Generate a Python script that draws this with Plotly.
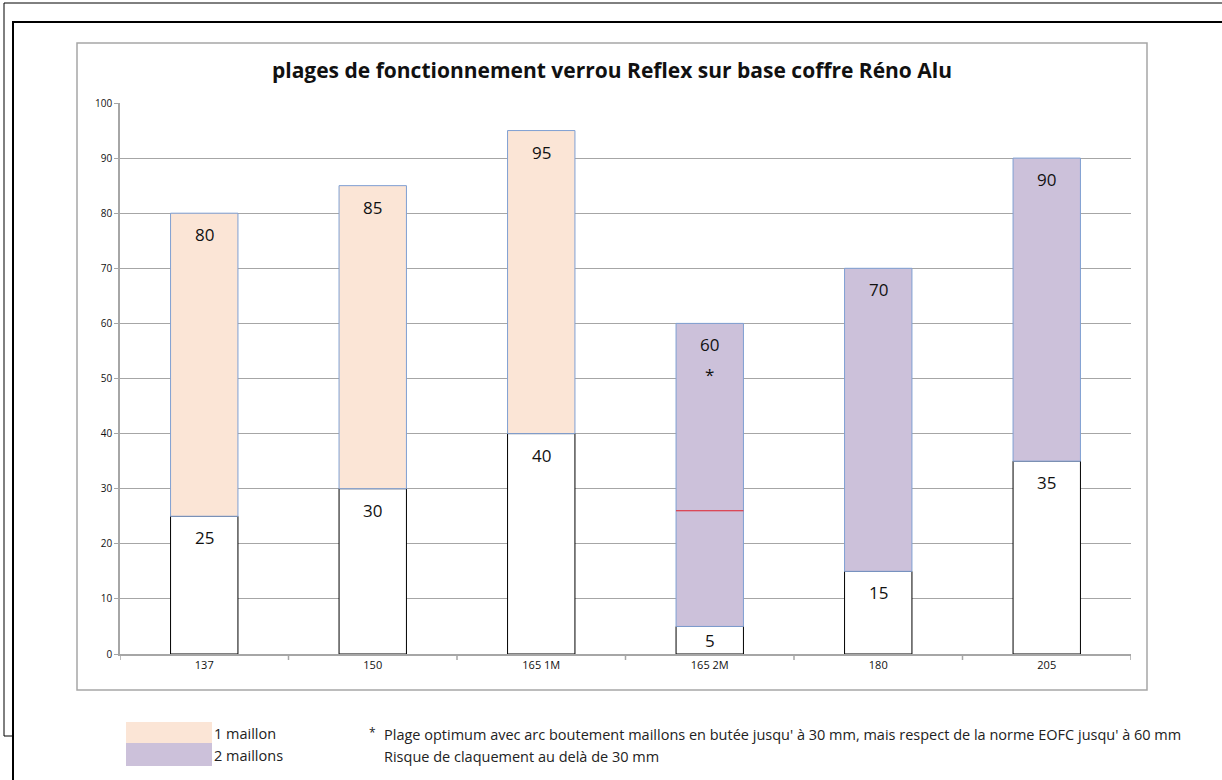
import plotly.graph_objects as go

# Données
categories = ["137", "150", "165 1M", "165 2M", "180", "205"]
bas = [25, 30, 40, 5, 15, 35]       # début de plage
haut = [80, 85, 95, 60, 70, 90]     # fin de plage
maillons = [1, 1, 1, 2, 2, 2]       # nombre de maillons
cat_etoile = "165 2M"               # plage avec renvoi *
ligne_rouge = 26                    # limite de claquement sur 165 2M

titre = "plages de fonctionnement verrou Reflex sur base coffre Réno Alu"
legende_1 = "1 maillon"
legende_2 = "2 maillons"
note_1 = "Plage optimum avec arc boutement maillons en butée jusqu' à 30 mm, mais respect de la norme EOFC jusqu' à 60 mm"
note_2 = "Risque de claquement au delà de 30 mm"

couleurs = {1: "#FBE5D6", 2: "#CCC1DA"}
police = "Open Sans"
W, H = 1222, 780
# zone de tracé en pixels
PX0, PX1, PY0, PY1 = 120, 1131, 103, 654
largeur_barre = 0.4


def px(x):
    return (x - PX0) / (PX1 - PX0)


def py(y):
    return (PY1 - y) / (PY1 - PY0)


idx = list(range(len(categories)))
hauteurs = [h - b for h, b in zip(haut, bas)]
fig = go.Figure()

# partie blanche sous la plage
fig.add_trace(go.Bar(
    x=idx, y=bas,
    marker=dict(color="white", line=dict(color="black", width=1)),
    width=largeur_barre, showlegend=False, hoverinfo="skip",
))

# plage de fonctionnement
fig.add_trace(go.Bar(
    x=idx, y=hauteurs, base=bas,
    marker=dict(color=[couleurs[m] for m in maillons],
                line=dict(color="#7F9FD2", width=1)),
    width=largeur_barre, showlegend=False, hoverinfo="skip",
))

# étiquettes des valeurs
lbl = dict(family=police, size=17, color="#111")
for i, c, b, h in zip(idx, categories, bas, haut):
    fig.add_annotation(x=i, y=h, text=str(h), showarrow=False,
                       yanchor="top", yshift=-8, font=lbl)
    if b < 8:
        # barre trop courte : étiquette centrée
        fig.add_annotation(x=i, y=b / 2, text=str(b), showarrow=False,
                           yanchor="middle", font=lbl)
    else:
        fig.add_annotation(x=i, y=b, text=str(b), showarrow=False,
                           yanchor="top", yshift=-8, font=lbl)
    if c == cat_etoile:
        fig.add_annotation(x=i, y=h, text="*", showarrow=False,
                           yanchor="top", yshift=-38, font=lbl)

# trait rouge 30 mm
i = categories.index(cat_etoile)
fig.add_shape(type="line", xref="x", yref="y",
              x0=i - largeur_barre / 2, x1=i + largeur_barre / 2,
              y0=ligne_rouge, y1=ligne_rouge,
              line=dict(color="#E0202C", width=1.2))

# cadre du graphique
fig.add_shape(type="rect", xref="paper", yref="paper",
              x0=px(77), x1=px(1147), y0=py(690), y1=py(43),
              line=dict(color="#A6A6A6", width=1.5), layer="below")

# cadres extérieurs de la feuille
fig.add_shape(type="path", xref="paper", yref="paper",
              path=f"M {px(1222)} {py(3)} L {px(4)} {py(3)} L {px(4)} {py(736)} L {px(13)} {py(736)}",
              line=dict(color="black", width=1))
fig.add_shape(type="path", xref="paper", yref="paper",
              path=f"M {px(1222)} {py(22)} L {px(13)} {py(22)} L {px(13)} {py(780)}",
              line=dict(color="black", width=2))

# légende
fig.add_shape(type="rect", xref="paper", yref="paper",
              x0=px(126), x1=px(212), y0=py(743), y1=py(722),
              fillcolor=couleurs[1], line=dict(width=0))
fig.add_shape(type="rect", xref="paper", yref="paper",
              x0=px(126), x1=px(212), y0=py(766), y1=py(743),
              fillcolor=couleurs[2], line=dict(width=0))
txt = dict(family=police, size=14.5, color="#222")
for texte, yy in ((legende_1, 733), (legende_2, 755)):
    fig.add_annotation(xref="paper", yref="paper", x=px(212), y=py(yy),
                       text=texte, showarrow=False, xanchor="left", yanchor="middle",
                       font=txt)
fig.add_annotation(xref="paper", yref="paper", x=px(367), y=py(732),
                   text="*", showarrow=False, xanchor="left", yanchor="middle",
                   font=dict(family=police, size=12, color="#222"))
for texte, yy in ((note_1, 734), (note_2, 756)):
    fig.add_annotation(xref="paper", yref="paper", x=px(382), y=py(yy),
                       text=texte, showarrow=False, xanchor="left", yanchor="middle",
                       font=txt)

fig.update_layout(
    width=W, height=H,
    barmode="overlay",
    plot_bgcolor="white", paper_bgcolor="white",
    margin=dict(l=PX0, r=W - PX1, t=PY0, b=H - PY1, autoexpand=False),
    title=dict(text=f"<b>{titre}</b>", x=612 / W, xanchor="center",
               y=1 - 71 / H, yanchor="middle",
               font=dict(family=police, size=21, color="#111")),
    font=dict(family=police, size=11, color="#111"),
)
fig.update_xaxes(
    range=[-0.5, len(categories) - 0.5],
    tickmode="array", tickvals=idx, ticktext=categories,
    ticks="", showline=True, linecolor="#A6A6A6", linewidth=1.5,
    showgrid=False, tickfont=dict(size=11),
)
# petits repères entre catégories
for k in range(len(categories) + 1):
    fig.add_shape(type="line", xref="x", yref="paper",
                  x0=k - 0.5, x1=k - 0.5, y0=0, y1=py(660),
                  line=dict(color="#A6A6A6", width=1.5))
fig.update_yaxes(
    range=[0, 100], dtick=10, ticks="outside", ticklen=4, tickcolor="#A6A6A6",
    showline=True, linecolor="#A6A6A6", linewidth=1.5,
    showgrid=True, gridcolor="#A6A6A6", gridwidth=1, zeroline=False,
    tickfont=dict(size=10),
)

fig.write_html("out.html", config={"displayModeBar": False},
               post_script="document.body.style.margin='0';")
